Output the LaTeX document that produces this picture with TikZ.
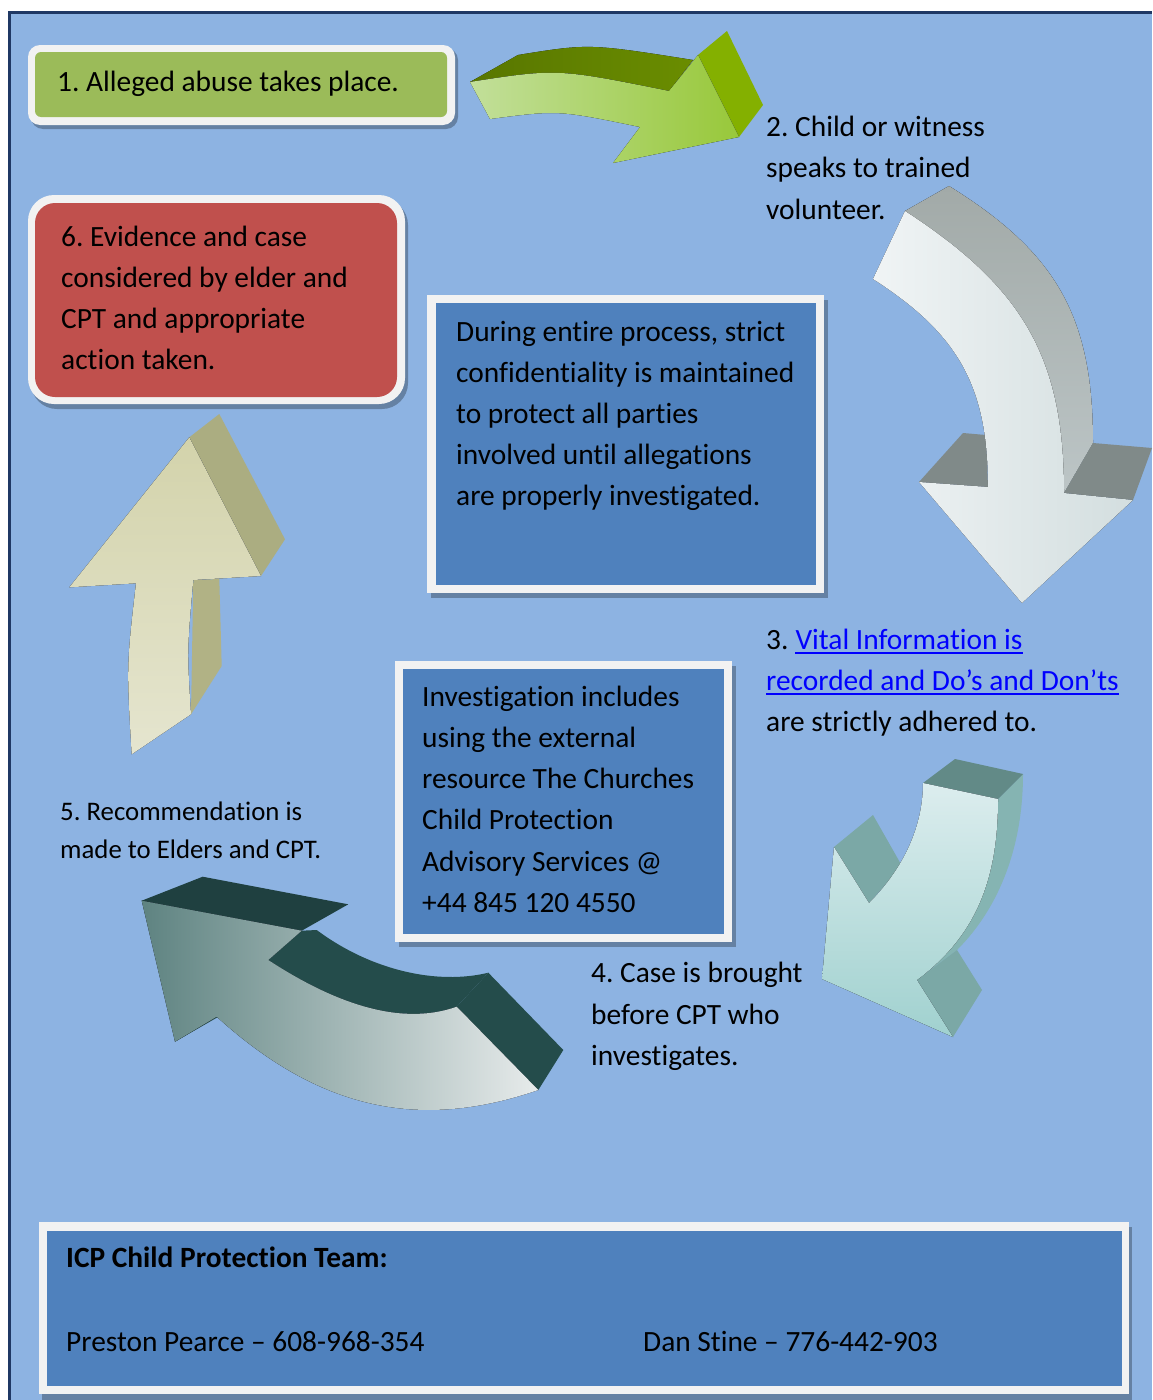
\documentclass[tikz,border=0pt]{standalone}
\usepackage{fontspec}
\setmainfont[Ligatures={TeX,NoCommon}]{Carlito}
\frenchspacing
\definecolor{bgblue}{HTML}{8DB3E2}
\definecolor{navy}{HTML}{1F3864}
\definecolor{boxwhite}{HTML}{F2F2F2}
\definecolor{green1}{HTML}{9BBB59}
\definecolor{red1}{HTML}{C0504D}
\definecolor{blue1}{HTML}{4F81BD}
\definecolor{linkblue}{HTML}{0000FF}
\definecolor{grnA}{HTML}{C2DF9A}
\definecolor{grnB}{HTML}{98C83A}
\definecolor{grnDarkA}{HTML}{587600}
\definecolor{grnDarkB}{HTML}{6A8D00}
\definecolor{grnSide}{HTML}{84B000}
\definecolor{gSideA}{HTML}{A2AAA8}
\definecolor{gSideB}{HTML}{BCC5C6}
\definecolor{gHead}{HTML}{808A89}
\definecolor{gFrontA}{HTML}{F0F4F5}
\definecolor{gFrontB}{HTML}{D3DEDF}
\definecolor{tTop}{HTML}{628A87}
\definecolor{tSide}{HTML}{85B4B2}
\definecolor{tHead}{HTML}{7BA8A6}
\definecolor{tFrontA}{HTML}{DCEDEE}
\definecolor{tFrontB}{HTML}{A0D1CF}
\definecolor{dTop}{HTML}{1F4040}
\definecolor{dBand}{HTML}{244C4B}
\definecolor{dFrontA}{HTML}{5E8381}
\definecolor{dFrontM}{HTML}{A0B1AF}
\definecolor{dFrontB}{HTML}{E7EBEB}
\definecolor{bSide}{HTML}{ABAD81}
\definecolor{bSideB}{HTML}{B1B285}
\definecolor{bFrontA}{HTML}{D3D3AB}
\definecolor{bFrontB}{HTML}{E5E5CF}
\begin{document}
\begin{tikzpicture}[x=1pt,y=-1pt,
  txt/.style={anchor=base west,inner sep=0pt,font=\fontsize{29.4}{41}\selectfont,text=black},
  smalltxt/.style={anchor=base west,inner sep=0pt,font=\fontsize{26.8}{38}\selectfont,text=black},
  boldtxt/.style={anchor=base west,inner sep=0pt,font=\fontsize{29.4}{41}\selectfont\bfseries,text=black},
  shadowfill/.style={fill=black,fill opacity=0.28},
  linkline/.style={draw=linkblue,line width=1.6pt}]
\useasboundingbox (0,0) rectangle (1152,1400);
\fill[white] (0,0) rectangle (1152,1400);
\fill[bgblue] (9,13) rectangle (1152,1400);
\draw[navy,line width=3pt] (9,1400) -- (9,12.5) -- (1152,12.5);

% ---------- box 1 (green)
\fill[shadowfill,rounded corners=12] (31,48) rectangle (458,129);
\fill[boxwhite,rounded corners=12] (28,45) rectangle (455,125);
\fill[green1,rounded corners=6] (35,52) rectangle (447,117);
\node[txt] (t1) at (57,91) {1. Alleged abuse takes place.};

% ---------- box 6 (red)
\fill[shadowfill,rounded corners=26] (31,199) rectangle (408,409);
\fill[boxwhite,rounded corners=26] (28,195) rectangle (405,404);
\fill[red1,rounded corners=20] (35,203) rectangle (397,397);
\node[txt] (t6a) at (61,246) {6. Evidence and case};
\node[txt] (t6b) at (61,287) {considered by elder and};
\node[txt] (t6c) at (61,328) {CPT and appropriate};
\node[txt] (t6d) at (61,369) {action taken.};

% ---------- confidentiality box
\fill[shadowfill] (431,300) rectangle (828,598);
\fill[boxwhite] (427,295) rectangle (824,593);
\fill[blue1] (436,303) rectangle (816,585);
\node[txt] (c1) at (456,341) {During entire process, strict};
\node[txt] (c2) at (456,382) {confidentiality is maintained};
\node[txt] (c3) at (456,423) {to protect all parties};
\node[txt] (c4) at (456,464) {involved until allegations};
\node[txt] (c5) at (456,505) {are properly investigated.};

% ---------- investigation box
\fill[shadowfill] (399,666) rectangle (736,947);
\fill[boxwhite] (395,661) rectangle (732,942);
\fill[blue1] (403,669) rectangle (724,934);
\node[txt] (i1) at (422,706) {Investigation includes};
\node[txt] (i2) at (422,747) {using the external};
\node[txt] (i3) at (422,788) {resource The Churches};
\node[txt] (i4) at (422,829) {Child Protection};
\node[txt] (i5) at (422,871) {Advisory Services @};
\node[txt] (i6) at (422,912) {+44 845 120 4550};

% ---------- bottom box
\fill[shadowfill] (42,1227) rectangle (1132,1400);
\fill[boxwhite] (39,1222) rectangle (1129,1394);
\fill[blue1] (47,1231) rectangle (1122,1386);
\node[boldtxt] (b1) at (66,1267) {ICP Child Protection Team:};
\node[txt] (b2) at (66,1351) {Preston Pearce – 608-968-354};
\node[txt] (b3) at (643,1351) {Dan Stine – 776-442-903};

% ---------- free labels
\node[txt] (s2a) at (766,136) {2. Child or witness};
\node[txt] (s2b) at (766,177) {speaks to trained};
\node[txt] (s2c) at (766,219) {volunteer.};

\node[txt] (s3a) at (766,649) {3.\kern0.226em};
\node[txt,text=linkblue] (s3b) at (s3a.base east) {Vital Information is};
\node[txt,text=linkblue] (s3c) at (766,690) {recorded and Do’s and Don’ts};
\node[txt] (s3d) at (766,731) {are strictly adhered to.};
\draw[linkline] ([yshift=-4pt]s3b.base west) -- ([yshift=-4pt]s3b.base east);
\draw[linkline] ([yshift=-4pt]s3c.base west) -- ([yshift=-4pt]s3c.base east);

\node[txt] (s4a) at (591,982) {4. Case is brought};
\node[txt] (s4b) at (591,1024) {before CPT who};
\node[txt] (s4c) at (591,1065) {investigates.};

\node[smalltxt] (s5a) at (60,820) {5. Recommendation is};
\node[smalltxt] (s5b) at (60,858) {made to Elders and CPT.};

% ---------- arrow 1 (green)
\fill[left color=grnDarkA,right color=grnDarkB] (470,82) -- (518,55) .. controls (589,43.5) .. (693,60) -- (669,91) .. controls (557,68.5) .. (470,82) -- cycle;
\fill[grnSide] (698,55) -- (727,31) -- (763,105) -- (739,137) -- cycle;
\fill[left color=grnA,right color=grnB] (470,82) .. controls (557,68.5) .. (669,91) -- (698,55) -- (739,137) -- (613,163) -- (640,127) .. controls (558,110) .. (490,119) -- cycle;

% ---------- arrow 2 (grey)
\fill[top color=gSideA,bottom color=gSideB] (905,211) -- (949,186) .. controls (1057,253) and (1093,317) .. (1093,443) -- (1064,493) -- cycle;
\fill[gHead] (1093,443) -- (1152,448) -- (1133,500) -- (1064,493) -- cycle;
\fill[gHead] (919,482) -- (963,433) -- (986,435) -- (988,487) -- cycle;
\fill[left color=gFrontA,right color=gFrontB] (905,211) .. controls (1024,288) and (1064,359) .. (1064,493) -- (1133,500) -- (1022,603) -- (919,482) -- (988,487) .. controls (988,387) and (959,334) .. (873,279) -- cycle;

% ---------- arrow 3 (teal)
\fill[tSide] (998,799) -- (1023,774) .. controls (1023,845.5) and (1000,907) .. (957,950) -- (917,980) -- cycle;
\fill[tHead] (957,950) -- (982,990) -- (953,1037) -- (917,980) -- cycle;
\fill[tHead] (834,847) -- (873,815) -- (902,866) -- (869,903) -- cycle;
\fill[tTop] (923,783) -- (955,759) -- (1023,774) -- (998,799) -- cycle;
\fill[top color=tFrontA,bottom color=tFrontB] (923,783) -- (998,799) .. controls (998,883) and (973.7,937.5) .. (917,980) -- (953,1037) -- (822,979) -- (834,847) -- (869,903) .. controls (904,868) and (923,826) .. (923,783) -- cycle;

% ---------- arrow 4 (dark teal)
\fill[dTop] (141.7,900.7) -- (202.7,876.7) -- (348.3,904.3) -- (301.7,930.7) -- cycle;
\fill[dBand] (301.7,930.7) -- (316.7,930) .. controls (371.7,971) and (438,985) .. (488.3,972.7) -- (456.7,1006.7) .. controls (397,1028) and (328,999) .. (268.3,960) -- cycle;
\fill[dBand] (456.7,1006.7) -- (488.3,972.7) -- (563.3,1050) -- (538.3,1090) -- cycle;
\fill[dBand] (175,1041.7) -- (210,1012.7) -- (218,1017) -- cycle;
\fill[left color=dFrontA,middle color=dFrontM,right color=dFrontB] (141.7,900.7) -- (301.7,930.7) -- (268.3,960) .. controls (328,999) and (397,1028) .. (456.7,1006.7) -- (538.3,1090) .. controls (428,1128) and (326,1116) .. (216.7,1016.7) -- (175,1041.7) -- cycle;

% ---------- arrow 5 (beige)
\fill[bSide] (189.3,437.3) -- (219.3,414) -- (285,539.3) -- (261,576) -- cycle;
\fill[bSideB] (193.3,580) -- (219.3,579) -- (221.7,666) -- (191,714.3) -- cycle;
\fill[top color=bFrontA,bottom color=bFrontB] (189.3,437.3) -- (261,576) -- (193.3,580) .. controls (187,651) .. (191,714.3) -- (131.7,754.3) .. controls (126.5,666) .. (136,583.3) -- (69.3,587.3) -- cycle;
\end{tikzpicture}
\end{document}
